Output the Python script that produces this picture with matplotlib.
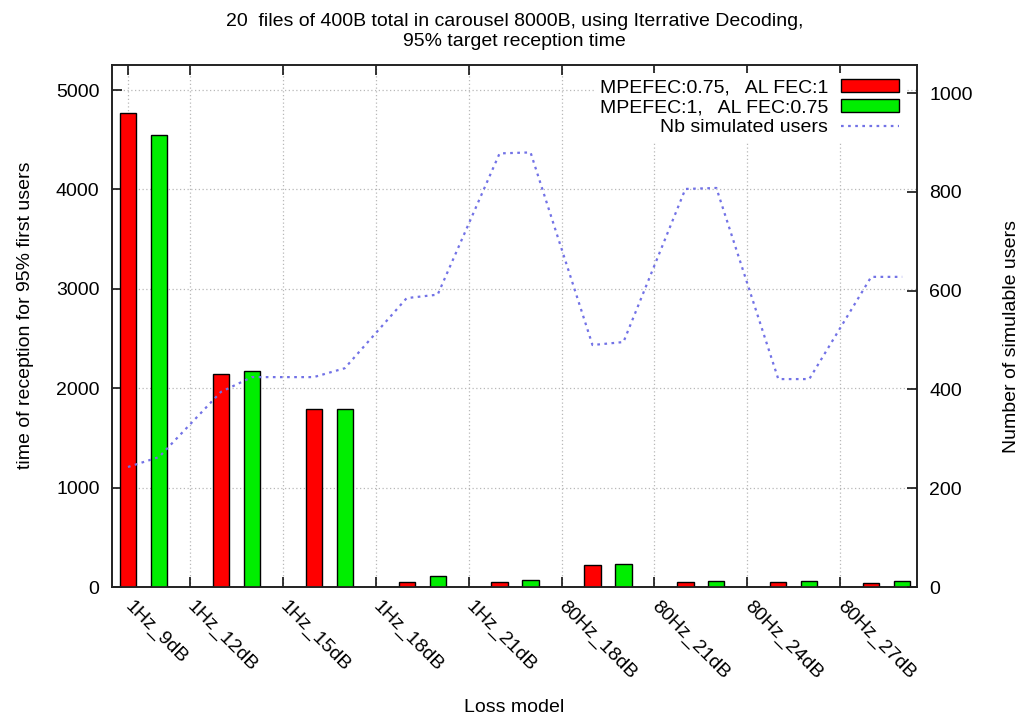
import matplotlib
matplotlib.use("Agg")
import matplotlib.pyplot as plt
import matplotlib.transforms as mtransforms
import numpy as np

plt.rcParams['font.family'] = ['Liberation Sans', 'DejaVu Sans']
plt.rcParams['font.size'] = 14

# data
models = ['1Hz_9dB', '1Hz_12dB', '1Hz_15dB', '1Hz_18dB', '1Hz_21dB',
          '80Hz_18dB', '80Hz_21dB', '80Hz_24dB', '80Hz_27dB']
time_mpe075 = [4766, 2140, 1788, 47, 53, 221, 47, 47, 44]
time_mpe1 = [4547, 2176, 1788, 114, 70, 228, 63, 63, 63]
users_at_red = [243, 395, 425, 585, 878, 490, 806, 421, 628]
users_at_green = [263, 425, 443, 592, 880, 496, 808, 421, 628]

red = '#ff0000'
green = '#00ee00'
blue = '#7272e6'

x = np.arange(len(models))
off = 1.0 / 3
w = 0.175

fig = plt.figure(figsize=(10.23, 7.19), dpi=100)
ax = fig.add_axes([112 / 1023, 132 / 719, 805 / 1023, 522 / 719])
ax2 = ax.twinx()

ax.set_axisbelow(True)
b1 = ax.bar(x, time_mpe075, w, color=red, edgecolor='black', linewidth=1.0, zorder=3)
b2 = ax.bar(x + off, time_mpe1, w, color=green, edgecolor='black', linewidth=1.0, zorder=3)

# line goes through both bar positions of each group
lx = np.ravel(np.column_stack([x, x + off]))
ly = np.ravel(np.column_stack([users_at_red, users_at_green]))
ln, = ax2.plot(lx, ly, color=blue, linewidth=1.6, linestyle=(0, (1.2, 2.0)))

# gnuplot put the first tick on the first bar, the rest between groups
ticks = [0] + list(x[1:] - off)
ax.set_xticks(ticks)
ax.set_xticklabels([])
# rotated labels, drawn by hand so they can sit a bit right of the tick
lab_tr = ax.get_xaxis_transform() + mtransforms.ScaledTranslation(6 / 100, -11 / 100, fig.dpi_scale_trans)
for t, name in zip(ticks, models):
    ax.text(t, 0, name, transform=lab_tr, rotation=-45, ha='left', va='top',
            rotation_mode='anchor', fontsize=14)
ax.set_xlim(-0.172, 8.493)

ax.set_ylim(0, 5252)
ax.set_yticks([0, 1000, 2000, 3000, 4000, 5000])
ax2.set_ylim(0, 1057)
ax2.set_yticks([0, 200, 400, 600, 800, 1000])

ax.grid(True, color='#b8b8b8', linestyle=(0, (1, 2)), linewidth=0.9)

ax.tick_params(axis='x', direction='in', length=7, width=1.1, top=True, pad=8)
ax.tick_params(axis='y', direction='in', length=7, width=1.1, left=True, right=False, pad=9)
ax2.tick_params(axis='y', direction='in', length=7, width=1.1, pad=9)

for a in (ax, ax2):
    for s in a.spines.values():
        s.set_linewidth(1.2)
        s.set_color('#222222')

ax.set_xlabel('Loss model')
ax.xaxis.set_label_coords(0.5, -0.215)
ax.set_ylabel('time of reception for 95% first users')
ax.yaxis.set_label_coords(-0.097, 0.52)
ax2.set_ylabel('Number of simulable users', rotation=90)
ax2.yaxis.set_label_coords(1.107, 0.48)

ax.set_title('20  files of 400B total in carousel 8000B, using Iterrative Decoding,\n'
             '95% target reception time', fontsize=14, linespacing=1.18, pad=14)

leg = ax2.legend([b1, b2, ln],
                 ['MPEFEC:0.75,   AL FEC:1', 'MPEFEC:1,   AL FEC:0.75', 'Nb simulated users'],
                 loc='upper right', bbox_to_anchor=(0.985, 0.984), markerfirst=False,
                 handlelength=3.0, handleheight=0.6, handletextpad=0.65, labelspacing=0.16,
                 borderpad=0.3, borderaxespad=0, fancybox=False, framealpha=1,
                 facecolor='white', edgecolor='none')

fig.savefig('out.png', dpi=100)
